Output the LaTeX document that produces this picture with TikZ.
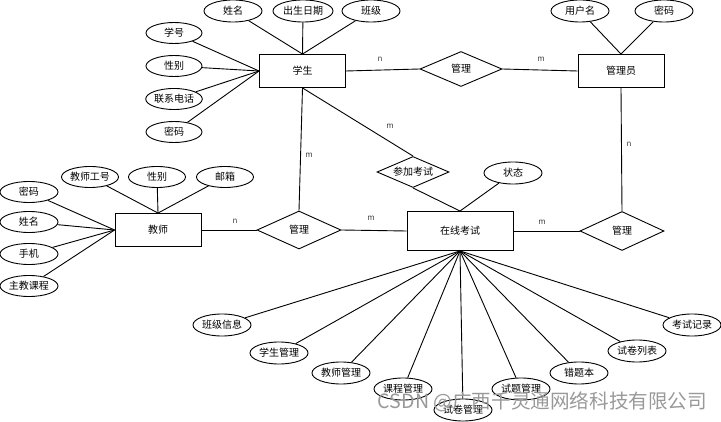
\documentclass[tikz,border=0pt]{standalone}
\usepackage{fontspec}
\setmainfont{Noto Sans CJK SC}
\usetikzlibrary{shapes.geometric}
\begin{document}
\begin{tikzpicture}[x=1pt,y=-1pt,line width=0.9pt,
  every node/.style={font=\fontsize{10}{12}\selectfont},
  ent/.style={draw,rectangle,minimum width=86,minimum height=33,inner sep=0},
  attr/.style={draw,ellipse,minimum width=58,minimum height=22,inner sep=0},
  rel/.style={draw,diamond,shape aspect=2.3,inner sep=0,minimum width=84,minimum height=38},
  lab/.style={font=\fontsize{8}{9}\selectfont,text=black!75,inner sep=0}]
\useasboundingbox (0,0) rectangle (721,422);
% entities
\node[ent] (stu) at (302.5,71) {学生};
\node[ent] (admin) at (621,71) {管理员};
\node[ent] (teacher) at (158,230) {教师};
\node[ent,minimum width=106,minimum height=39] (exam) at (460,231) {在线考试};
% relations
\node[rel,minimum width=82,minimum height=35] (mgrT) at (461,69) {管理};
\node[rel] (mgrL) at (299,230) {管理};
\node[rel,minimum width=84,minimum height=39] (mgrR) at (622,231) {管理};
\node[rel,minimum width=72,minimum height=31] (join) at (413,172) {参加考试};
% student attributes
\node[attr] (sname) at (233,11) {姓名};
\node[attr,minimum width=60] (sbirth) at (303,11) {出生日期};
\node[attr] (sclass) at (371,11) {班级};
\node[attr,minimum width=56,minimum height=21] (sno) at (174,33) {学号};
\node[attr,minimum width=56,minimum height=21] (ssex) at (174,66) {性别};
\node[attr,minimum width=56,minimum height=21] (sphone) at (174,99) {联系电话};
\node[attr,minimum width=56,minimum height=21] (spwd) at (174,132) {密码};
\foreach \a in {sname,sbirth,sclass} \draw (\a) -- (stu.north);
\foreach \a in {sno,ssex,sphone,spwd} \draw (\a) -- (stu.west);
% admin attributes
\node[attr] (auser) at (580,11) {用户名};
\node[attr] (apwd) at (664,11) {密码};
\foreach \a in {auser,apwd} \draw (\a) -- (admin.north);
% teacher attributes
\node[attr,minimum width=57,minimum height=21] (tno) at (90,177) {教师工号};
\node[attr,minimum width=57,minimum height=21] (tsex) at (157,177) {性别};
\node[attr,minimum width=57,minimum height=21] (tmail) at (225,177) {邮箱};
\node[attr,minimum width=58,minimum height=21] (tpwd) at (29,192) {密码};
\node[attr,minimum width=58,minimum height=21] (tname) at (29,222) {姓名};
\node[attr,minimum width=58,minimum height=21] (tphone) at (29,254) {手机};
\node[attr,minimum width=58,minimum height=21] (tcourse) at (29,286) {主教课程};
\foreach \a in {tno,tsex,tmail} \draw (\a) -- (teacher.north);
\foreach \a in {tpwd,tname,tphone,tcourse} \draw (\a) -- (teacher.west);
% exam attributes
\node[attr] (state) at (513,173) {状态};
\draw (join.south) -- (exam.north);
\draw (state) -- (exam.north);
\coordinate (hub) at (exam.south);
\node[attr] (b1) at (222,325) {班级信息};
\node[attr] (b2) at (279,353) {学生管理};
\node[attr] (b3) at (341,373) {教师管理};
\node[attr] (b4) at (403,389) {课程管理};
\node[attr] (b5) at (463,410) {试卷管理};
\node[attr] (b6) at (521,389) {试题管理};
\node[attr] (b7) at (579,373) {错题本};
\node[attr] (b8) at (637,351) {试卷列表};
\node[attr] (b9) at (692,325) {考试记录};
\foreach \a in {b1,b2,b3,b4,b5,b6,b7,b8,b9} \draw (\a) -- (hub);
% relationship lines
\draw (stu.east) -- (mgrT.west);
\draw (mgrT.east) -- (admin.west);
\draw (admin.south) -- (mgrR.north);
\draw (stu.south) -- (mgrL.north);
\draw (stu.south) -- (join.north);
\draw (teacher.east) -- (mgrL.west);
\draw (mgrL.east) -- (exam.west);
\draw (exam.east) -- (mgrR.west);
% cardinalities
\node[lab] (l1) at (380,59) {n};
\node[lab] (l2) at (541,59) {m};
\node[lab] (l3) at (629,144) {n};
\node[lab] (l4) at (309,155) {m};
\node[lab] (l5) at (390,126) {m};
\node[lab] (l6) at (235,221) {n};
\node[lab] (l7) at (371,218) {m};
\node[lab] (l8) at (542,222) {m};
% watermark
\node[text=black!40,font=\fontsize{19.6}{21}\selectfont,inner sep=0] (wm) at (542.5,402) {CSDN @广西千灵通网络科技有限公司};
\end{tikzpicture}
\end{document}
